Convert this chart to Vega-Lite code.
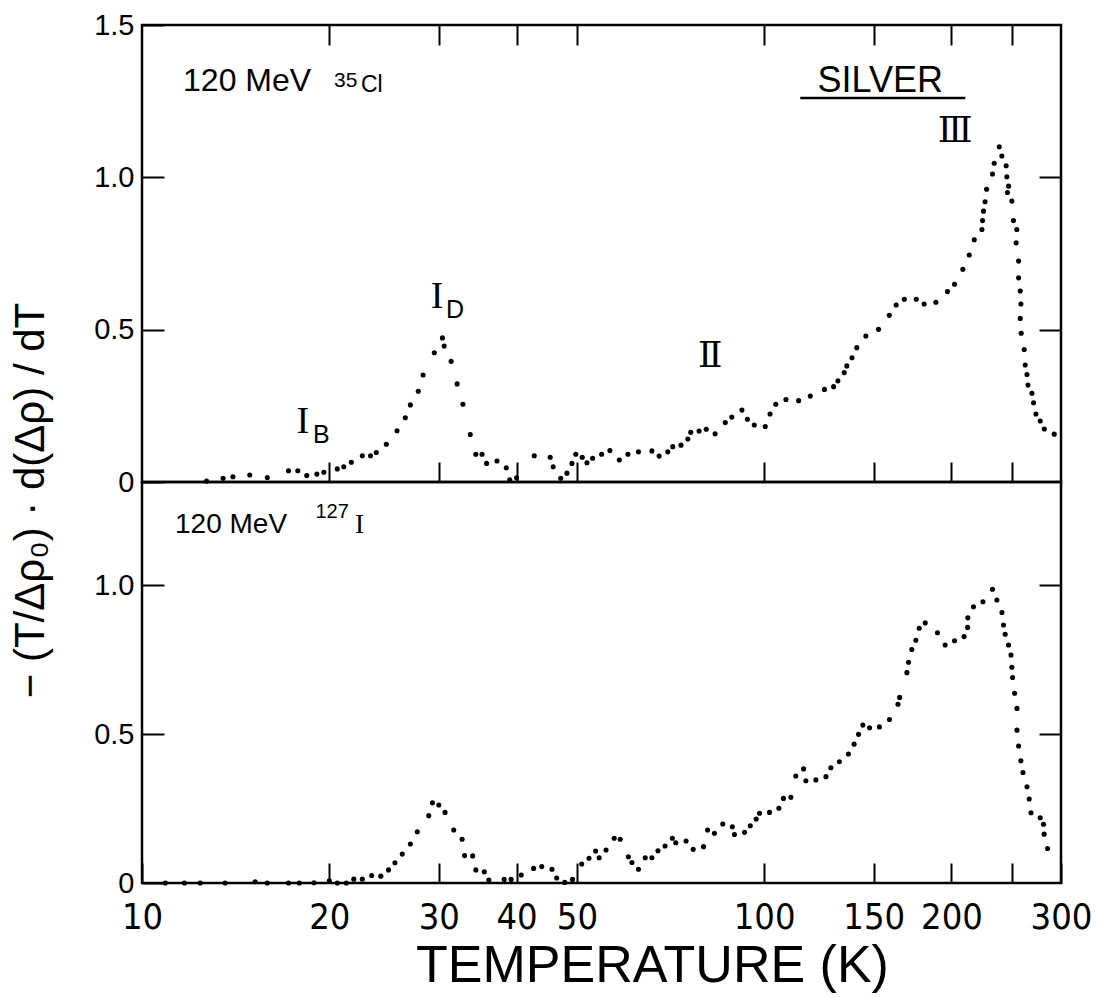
{
  "$schema": "https://vega.github.io/schema/vega-lite/v6.json",
  "background": "white",
  "padding": {"left": 7, "top": 9, "right": 5, "bottom": 5},
  "spacing": 0,
  "bounds": "flush",
  "config": {
    "view": {"stroke": "black", "strokeWidth": 2.5},
    "axis": {"domain": false, "grid": false, "tickColor": "black", "tickWidth": 2, "labelColor": "black", "titleColor": "black", "labelFont": "Liberation Sans", "titleFont": "Liberation Sans", "titleFontWeight": "normal", "labelFlush": false, "labelOverlap": false}
  },
  "datasets": {
    "cl": [
      {"T":12.7,"v":0.003},{"T":13.5,"v":0.012},{"T":14.0,"v":0.017},{"T":14.9,"v":0.023},{"T":15.9,"v":0.015},
      {"T":17.2,"v":0.037},{"T":17.8,"v":0.037},{"T":18.4,"v":0.021},{"T":19.1,"v":0.026},{"T":19.6,"v":0.032},
      {"T":20.6,"v":0.043},{"T":21.1,"v":0.050},{"T":21.7,"v":0.065},{"T":22.6,"v":0.086},{"T":23.3,"v":0.086},
      {"T":23.8,"v":0.097},{"T":24.7,"v":0.124},{"T":25.7,"v":0.168},{"T":26.5,"v":0.211},{"T":27.0,"v":0.253},
      {"T":27.8,"v":0.298},{"T":28.3,"v":0.351},{"T":29.5,"v":0.424},{"T":30.4,"v":0.473},{"T":30.6,"v":0.446},
      {"T":31.4,"v":0.396},{"T":32.1,"v":0.322},{"T":32.8,"v":0.255},{"T":33.7,"v":0.156},{"T":34.4,"v":0.091},
      {"T":35.2,"v":0.091},{"T":35.8,"v":0.061},{"T":37.2,"v":0.069},{"T":38.5,"v":0.047},{"T":39.0,"v":0.007},
      {"T":40.0,"v":0.014},{"T":42.7,"v":0.086},{"T":45.3,"v":0.081},{"T":45.8,"v":0.050},{"T":47.1,"v":0.012},
      {"T":48.2,"v":0.029},{"T":49.1,"v":0.061},{"T":49.8,"v":0.091},{"T":51.0,"v":0.081},{"T":51.9,"v":0.063},
      {"T":53.0,"v":0.078},{"T":54.8,"v":0.091},{"T":56.5,"v":0.103},{"T":58.5,"v":0.072},{"T":60.4,"v":0.091},
      {"T":62.8,"v":0.099},{"T":66.0,"v":0.102},{"T":67.8,"v":0.085},{"T":70.0,"v":0.099},{"T":71.3,"v":0.116},
      {"T":73.5,"v":0.121},{"T":75.4,"v":0.141},{"T":76.2,"v":0.163},{"T":78.6,"v":0.167},{"T":80.7,"v":0.173},
      {"T":83.4,"v":0.158},{"T":86.6,"v":0.195},{"T":88.7,"v":0.213},{"T":92.1,"v":0.236},{"T":94.0,"v":0.206},
      {"T":96.4,"v":0.187},{"T":100.4,"v":0.182},{"T":102.2,"v":0.223},{"T":104.4,"v":0.255},{"T":108.4,"v":0.271},
      {"T":113.6,"v":0.267},{"T":118.6,"v":0.282},{"T":125.0,"v":0.304},{"T":129.3,"v":0.313},{"T":131.4,"v":0.332},
      {"T":134.5,"v":0.359},{"T":135.8,"v":0.381},{"T":138.4,"v":0.408},{"T":140.9,"v":0.441},{"T":145.7,"v":0.479},
      {"T":152.7,"v":0.501},{"T":158.9,"v":0.547},{"T":163.0,"v":0.581},{"T":168.0,"v":0.600},{"T":175.6,"v":0.600},
      {"T":180.8,"v":0.584},{"T":188.8,"v":0.590},{"T":197.1,"v":0.625},{"T":202.3,"v":0.649},{"T":208.6,"v":0.698},
      {"T":213.6,"v":0.745},{"T":217.6,"v":0.795},{"T":223.9,"v":0.829},{"T":224.4,"v":0.858},{"T":225.2,"v":0.889},
      {"T":226.5,"v":0.920},{"T":227.8,"v":0.961},{"T":232.8,"v":1.011},{"T":234.3,"v":1.046},{"T":238.7,"v":1.100},
      {"T":241.0,"v":1.070},{"T":244.9,"v":1.038},{"T":245.5,"v":1.002},{"T":247.1,"v":0.971},{"T":246.1,"v":0.950},
      {"T":250.1,"v":0.922},{"T":251.6,"v":0.858},{"T":254.7,"v":0.829},{"T":254.1,"v":0.785},{"T":256.4,"v":0.725},
      {"T":256.4,"v":0.670},{"T":258.0,"v":0.627},{"T":258.6,"v":0.584},{"T":258.0,"v":0.537},{"T":258.9,"v":0.488},
      {"T":261.8,"v":0.435},{"T":262.8,"v":0.384},{"T":264.5,"v":0.353},{"T":265.5,"v":0.318},{"T":269.4,"v":0.291},
      {"T":271.0,"v":0.260},{"T":273.4,"v":0.223},{"T":277.8,"v":0.200},{"T":282.0,"v":0.174},{"T":292.6,"v":0.157}
    ],
    "iod": [
      {"T":10.9,"v":0},{"T":11.7,"v":0},{"T":12.4,"v":0},{"T":13.6,"v":0},{"T":15.2,"v":0.004},
      {"T":15.9,"v":0},{"T":17.2,"v":0},{"T":17.9,"v":0},{"T":18.9,"v":0.001},{"T":20.0,"v":0.007},
      {"T":20.6,"v":0},{"T":21.3,"v":0},{"T":21.9,"v":0.013},{"T":22.6,"v":0.013},{"T":23.4,"v":0.025},
      {"T":24.2,"v":0.023},{"T":24.9,"v":0.044},{"T":25.5,"v":0.068},{"T":26.2,"v":0.097},{"T":27.0,"v":0.131},
      {"T":27.7,"v":0.172},{"T":28.9,"v":0.226},{"T":29.3,"v":0.269},{"T":30.0,"v":0.262},{"T":30.7,"v":0.237},
      {"T":31.7,"v":0.178},{"T":32.7,"v":0.147},{"T":33.0,"v":0.092},{"T":34.0,"v":0.091},{"T":34.4,"v":0.044},
      {"T":35.5,"v":0.038},{"T":36.1,"v":0.010},{"T":38.2,"v":0.012},{"T":39.2,"v":0.012},{"T":40.7,"v":0.027},
      {"T":42.6,"v":0.049},{"T":43.9,"v":0.055},{"T":45.6,"v":0.046},{"T":46.4,"v":0.017},{"T":47.8,"v":0.002},
      {"T":49.2,"v":0.012},{"T":50.9,"v":0.064},{"T":52.3,"v":0.083},{"T":53.6,"v":0.107},{"T":54.3,"v":0.085},
      {"T":55.7,"v":0.111},{"T":57.4,"v":0.150},{"T":58.7,"v":0.147},{"T":60.5,"v":0.088},{"T":61.3,"v":0.069},
      {"T":62.8,"v":0.046},{"T":64.4,"v":0.085},{"T":66.0,"v":0.085},{"T":67.5,"v":0.108},{"T":69.3,"v":0.124},
      {"T":71.2,"v":0.150},{"T":72.1,"v":0.135},{"T":74.9,"v":0.141},{"T":76.9,"v":0.113},{"T":79.9,"v":0.122},
      {"T":81.1,"v":0.178},{"T":83.2,"v":0.167},{"T":85.8,"v":0.198},{"T":88.9,"v":0.189},{"T":89.6,"v":0.163},
      {"T":93.0,"v":0.170},{"T":95.0,"v":0.192},{"T":97.1,"v":0.215},{"T":98.3,"v":0.234},{"T":102.0,"v":0.237},
      {"T":105.6,"v":0.251},{"T":107.4,"v":0.284},{"T":110.4,"v":0.288},{"T":112.4,"v":0.359},{"T":115.7,"v":0.383},
      {"T":116.7,"v":0.343},{"T":121.1,"v":0.346},{"T":125.7,"v":0.357},{"T":128.0,"v":0.387},{"T":132.1,"v":0.407},
      {"T":136.6,"v":0.433},{"T":139.5,"v":0.466},{"T":141.8,"v":0.499},{"T":144.1,"v":0.530},{"T":147.7,"v":0.521},
      {"T":153.2,"v":0.524},{"T":159.0,"v":0.549},{"T":164.1,"v":0.600},{"T":165.1,"v":0.623},{"T":169.6,"v":0.706},
      {"T":170.6,"v":0.741},{"T":172.7,"v":0.784},{"T":175.3,"v":0.815},{"T":177.5,"v":0.855},{"T":181.5,"v":0.873},
      {"T":189.9,"v":0.840},{"T":195.4,"v":0.799},{"T":202.3,"v":0.813},{"T":209.6,"v":0.827},{"T":212.3,"v":0.858},
      {"T":212.5,"v":0.890},{"T":217.0,"v":0.927},{"T":224.7,"v":0.944},{"T":232.8,"v":0.986},{"T":236.6,"v":0.950},
      {"T":241.1,"v":0.908},{"T":242.5,"v":0.866},{"T":244.0,"v":0.835},{"T":247.1,"v":0.799},{"T":249.3,"v":0.765},
      {"T":250.1,"v":0.724},{"T":250.8,"v":0.690},{"T":252.7,"v":0.637},{"T":254.9,"v":0.586},{"T":254.9,"v":0.513},
      {"T":256.4,"v":0.460},{"T":258.6,"v":0.410},{"T":260.6,"v":0.371},{"T":264.5,"v":0.323},{"T":266.7,"v":0.282},
      {"T":268.5,"v":0.236},{"T":277.8,"v":0.219},{"T":281.2,"v":0.197},{"T":281.9,"v":0.164},{"T":285.5,"v":0.116}
    ]
  },
  "vconcat": [
    {
      "width": 919,
      "height": 457,
      "resolve": {"axis": {"x": "independent", "y": "independent"}},
      "layer": [
        {
          "data": {"name": "cl"},
          "mark": {"type": "point", "filled": true, "shape": "circle", "size": 26, "color": "black", "opacity": 1},
          "encoding": {
            "x": {"field": "T", "type": "quantitative", "scale": {"type": "log", "domain": [10, 300], "nice": false},
              "axis": {"orient": "bottom", "values": [20, 30, 40, 50, 100, 150, 200, 250], "labels": false, "tickSize": -20, "title": null}},
            "y": {"field": "v", "type": "quantitative", "scale": {"domain": [0, 1.5], "nice": false, "zero": false},
              "axis": {"orient": "left", "values": [0, 0.5, 1, 1.5], "tickSize": -22, "labelPadding": 30, "labelFontSize": 29,
                "labelExpr": "datum.value == 0 ? '0' : format(datum.value, '.1f')",
                "title": "− (T/Δρ₀) · d(Δρ) / dT", "titleFontSize": 42, "titleAngle": -90, "titleX": -112, "titleY": 475,
                "titleAlign": "center", "titleBaseline": "middle"}}
          }
        },
        {
          "data": {"values": [{"T": 11.64, "v": 1.283, "t": "120 MeV"}]},
          "mark": {"type": "text", "align": "left", "baseline": "alphabetic", "font": "Liberation Sans", "fontSize": 32, "color": "black"},
          "encoding": {
            "x": {"field": "T", "type": "quantitative", "scale": {"type": "log", "domain": [10, 300], "nice": false},
              "axis": {"orient": "top", "values": [20, 30, 40, 50, 100, 150, 200, 250], "labels": false, "tickSize": -20, "title": null}},
            "y": {"field": "v", "type": "quantitative", "scale": {"domain": [0, 1.5], "nice": false, "zero": false},
              "axis": {"orient": "right", "values": [0.5, 1], "labels": false, "tickSize": -22, "title": null}},
            "text": {"field": "t"}
          }
        },
        {
          "data": {"values": [{"T": 20.36, "v": 1.296, "t": "35"}]},
          "mark": {"type": "text", "align": "left", "baseline": "alphabetic", "font": "Liberation Sans", "fontSize": 21, "color": "black"},
          "encoding": {
            "x": {"field": "T", "type": "quantitative", "axis": null},
            "y": {"field": "v", "type": "quantitative", "axis": null},
            "text": {"field": "t"}
          }
        },
        {
          "data": {"values": [{"T": 22.49, "v": 1.280, "t": "Cl"}]},
          "mark": {"type": "text", "align": "left", "baseline": "alphabetic", "font": "Liberation Sans", "fontSize": 23, "color": "black"},
          "encoding": {
            "x": {"field": "T", "type": "quantitative", "axis": null},
            "y": {"field": "v", "type": "quantitative", "axis": null},
            "text": {"field": "t"}
          }
        },
        {
          "data": {"values": [{"T": 29.8, "v": 0.571, "t": "I"}, {"T": 18.13, "v": 0.161, "t": "I"}]},
          "mark": {"type": "text", "align": "center", "baseline": "alphabetic", "font": "Liberation Serif", "fontSize": 38, "color": "black"},
          "encoding": {
            "x": {"field": "T", "type": "quantitative", "axis": null},
            "y": {"field": "v", "type": "quantitative", "axis": null},
            "text": {"field": "t"}
          }
        },
        {
          "data": {"values": [{"T": 30.8, "v": 0.538, "t": "D"}, {"T": 18.83, "v": 0.128, "t": "B"}]},
          "mark": {"type": "text", "align": "left", "baseline": "alphabetic", "font": "Liberation Sans", "fontSize": 25, "color": "black"},
          "encoding": {
            "x": {"field": "T", "type": "quantitative", "axis": null},
            "y": {"field": "v", "type": "quantitative", "axis": null},
            "text": {"field": "t"}
          }
        },
        {
          "data": {"values": [{"T": 81.9, "v": 0.377, "t": "Ⅱ"}, {"T": 202.8, "v": 1.116, "t": "Ⅲ"}]},
          "mark": {"type": "text", "align": "center", "baseline": "alphabetic", "font": "DejaVu Serif, DejaVu Sans", "fontSize": 36, "color": "black"},
          "encoding": {
            "x": {"field": "T", "type": "quantitative", "axis": null},
            "y": {"field": "v", "type": "quantitative", "axis": null},
            "text": {"field": "t"}
          }
        },
        {
          "data": {"values": [{"T": 153.7, "v": 1.280, "t": "SILVER"}]},
          "mark": {"type": "text", "align": "center", "baseline": "alphabetic", "font": "Liberation Sans", "fontSize": 36, "color": "black"},
          "encoding": {
            "x": {"field": "T", "type": "quantitative", "axis": null},
            "y": {"field": "v", "type": "quantitative", "axis": null},
            "text": {"field": "t"}
          }
        },
        {
          "data": {"values": [{"T": 114.3, "T2": 210.5, "v": 1.26}]},
          "mark": {"type": "rule", "color": "black", "strokeWidth": 2.5},
          "encoding": {
            "x": {"field": "T", "type": "quantitative", "axis": null},
            "x2": {"field": "T2"},
            "y": {"field": "v", "type": "quantitative", "axis": null}
          }
        }
      ]
    },
    {
      "width": 919,
      "height": 401,
      "resolve": {"axis": {"x": "independent", "y": "independent"}},
      "layer": [
        {
          "data": {"name": "iod"},
          "mark": {"type": "point", "filled": true, "shape": "circle", "size": 26, "color": "black", "opacity": 1},
          "encoding": {
            "x": {"field": "T", "type": "quantitative", "scale": {"type": "log", "domain": [10, 300], "nice": false},
              "axis": {"orient": "bottom", "values": [10, 20, 30, 40, 50, 100, 150, 200, 250, 300], "tickSize": -20, "labelPadding": 37,
                "labelFontSize": 36, "labelFont": "Liberation Sans Narrow, DejaVu Sans Condensed, Liberation Sans",
                "labelExpr": "datum.value == 250 ? '' : format(datum.value, 'd')",
                "title": "TEMPERATURE (K)", "titleFontSize": 52, "titleX": 510, "titleY": 82, "titleAlign": "center", "titleBaseline": "middle"}},
            "y": {"field": "v", "type": "quantitative", "scale": {"domain": [0, 1.346], "nice": false, "zero": false},
              "axis": {"orient": "left", "values": [0, 0.5, 1], "tickSize": -22, "labelPadding": 30, "labelFontSize": 29,
                "labelExpr": "datum.value == 0 ? '0' : format(datum.value, '.1f')", "title": null}}
          }
        },
        {
          "data": {"values": [{"T": 11.30, "v": 1.174, "t": "120 MeV"}]},
          "mark": {"type": "text", "align": "left", "baseline": "alphabetic", "font": "Liberation Sans", "fontSize": 28, "color": "black"},
          "encoding": {
            "x": {"field": "T", "type": "quantitative", "scale": {"type": "log", "domain": [10, 300], "nice": false}, "axis": null},
            "y": {"field": "v", "type": "quantitative", "scale": {"domain": [0, 1.346], "nice": false, "zero": false},
              "axis": {"orient": "right", "values": [0.5, 1], "labels": false, "tickSize": -22, "title": null}},
            "text": {"field": "t"}
          }
        },
        {
          "data": {"values": [{"T": 19.0, "v": 1.225, "t": "127"}]},
          "mark": {"type": "text", "align": "left", "baseline": "alphabetic", "font": "Liberation Sans", "fontSize": 20, "color": "black"},
          "encoding": {
            "x": {"field": "T", "type": "quantitative", "axis": null},
            "y": {"field": "v", "type": "quantitative", "axis": null},
            "text": {"field": "t"}
          }
        },
        {
          "data": {"values": [{"T": 22.0, "v": 1.174, "t": "I"}]},
          "mark": {"type": "text", "align": "left", "baseline": "alphabetic", "font": "Liberation Serif", "fontSize": 27, "color": "black"},
          "encoding": {
            "x": {"field": "T", "type": "quantitative", "axis": null},
            "y": {"field": "v", "type": "quantitative", "axis": null},
            "text": {"field": "t"}
          }
        }
      ]
    }
  ]
}
